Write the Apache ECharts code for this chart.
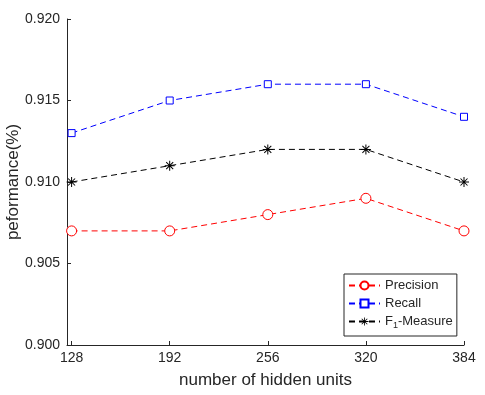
<!DOCTYPE html>
<html>
<head>
<meta charset="utf-8">
<script src="https://cdn.jsdelivr.net/npm/echarts@6/dist/echarts.min.js"></script>
<style>
  html, body { margin: 0; padding: 0; background: #fff; }
  #chart { width: 485px; height: 395px; }
</style>
</head>
<body>
<div id="chart"></div>
<script>
// x values (number of hidden units)
var hiddenUnits = [128, 192, 256, 320, 384];
// series values
var precision = [0.907, 0.907, 0.908, 0.909, 0.907];
var recall    = [0.913, 0.915, 0.916, 0.916, 0.914];
var f1        = [0.910, 0.911, 0.912, 0.912, 0.910];

// asterisk marker like matlab '*'
var starPath = 'path://M-1,-10 L1,-10 L1,10 L-1,10 Z M-10,-1 L10,-1 L10,1 L-10,1 Z ' +
  'M-6.3,-7.7 L7.7,6.3 L6.3,7.7 L-7.7,-6.3 Z M7.7,-6.3 L-6.3,7.7 L-7.7,6.3 L6.3,-7.7 Z';

function pairs(vals) {
  return hiddenUnits.map(function (x, i) { return [x, vals[i]]; });
}

var axisCol = '#262626';
var font = 'Liberation Sans, Arial, sans-serif';

var myChart = echarts.init(document.getElementById('chart'));
var option = {
  animation: false,
  backgroundColor: '#fff',
  textStyle: { fontFamily: font },
  grid: { left: 67, right: 21, top: 19, bottom: 50, containLabel: false, outerBoundsMode: 'none' },
  xAxis: {
    type: 'value',
    min: 125,
    max: 384,
    name: 'number of hidden units',
    nameLocation: 'middle',
    nameGap: 27,
    nameMoveOverlap: false,
    nameTextStyle: { color: axisCol, fontSize: 17, fontFamily: font },
    axisLine: { show: true, lineStyle: { color: axisCol, width: 1 } },
    axisTick: { show: true, inside: true, length: 4, customValues: hiddenUnits, lineStyle: { color: axisCol } },
    axisLabel: { customValues: hiddenUnits, color: axisCol, fontSize: 14, margin: 6, fontFamily: font },
    splitLine: { show: false }
  },
  yAxis: {
    type: 'value',
    min: 0.9,
    max: 0.92,
    interval: 0.005,
    name: 'peformance(%)',
    nameLocation: 'middle',
    nameGap: 45,
    nameMoveOverlap: false,
    nameTextStyle: { color: axisCol, fontSize: 17, fontFamily: font },
    axisLine: { show: true, lineStyle: { color: axisCol, width: 1 } },
    axisTick: { show: true, inside: true, length: 4, lineStyle: { color: axisCol } },
    axisLabel: {
      color: axisCol, fontSize: 14, margin: 7, fontFamily: font,
      formatter: function (v) { return v.toFixed(3); }
    },
    splitLine: { show: false }
  },
  legend: {
    orient: 'vertical',
    left: 344,
    top: 274,
    padding: [5, 4, 6, 4],
    itemGap: 5,
    itemWidth: 31,
    itemHeight: 10,
    backgroundColor: '#fff',
    borderColor: axisCol,
    borderWidth: 1,
    borderRadius: 0,
    textStyle: {
      color: axisCol, fontSize: 13, fontFamily: font,
      rich: {
        a: { fontSize: 13, color: axisCol, fontFamily: font },
        s: { fontSize: 9, color: axisCol, fontFamily: font, padding: [8, 0, 0, 0] }
      }
    },
    formatter: function (name) {
      if (name === 'F1-Measure') return '{a|F}{s|1}{a|-Measure}';
      return name;
    },
    data: ['Precision', 'Recall', 'F1-Measure']
  },
  series: [
    {
      name: 'Precision',
      type: 'line',
      data: pairs(precision),
      symbol: 'circle',
      symbolSize: 10,
      lineStyle: { color: '#ff0000', width: 1, type: [6, 4] },
      itemStyle: { color: '#fff', borderColor: '#ff0000', borderWidth: 1 }
    },
    {
      name: 'Recall',
      type: 'line',
      data: pairs(recall),
      symbol: 'rect',
      symbolSize: 7,
      lineStyle: { color: '#0000ff', width: 1, type: [6, 4] },
      itemStyle: { color: '#fff', borderColor: '#0000ff', borderWidth: 1 }
    },
    {
      name: 'F1-Measure',
      type: 'line',
      data: pairs(f1),
      symbol: starPath,
      symbolSize: 10,
      lineStyle: { color: '#000', width: 1, type: [6, 4] },
      itemStyle: { color: '#000', borderWidth: 0 }
    }
  ]
};
myChart.setOption(option);
</script>
</body>
</html>
